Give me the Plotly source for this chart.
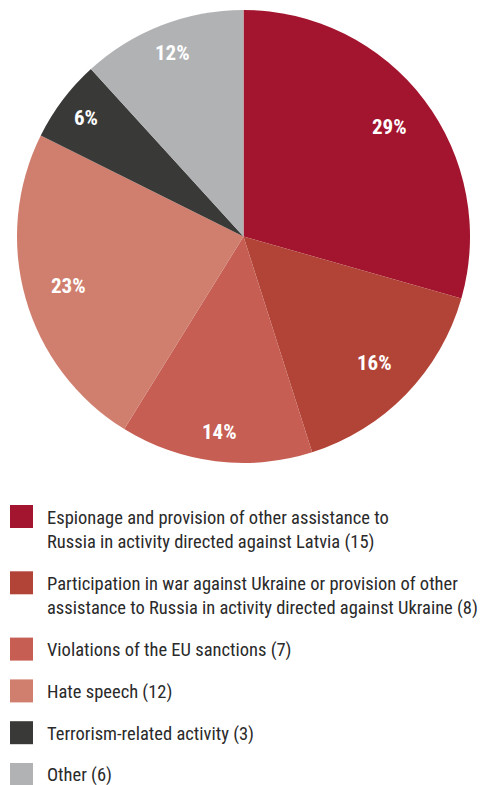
import math
import plotly.graph_objects as go

# Cases by category (count in brackets in the legend)
categories = [
    "Espionage and provision of other assistance to<br>Russia in activity directed against Latvia",
    "Participation in war against Ukraine or provision of other<br>assistance to Russia in activity directed against Ukraine",
    "Violations of the EU sanctions",
    "Hate speech",
    "Terrorism-related activity",
    "Other",
]
counts = [15, 8, 7, 12, 3, 6]
# Published percentage shares (rounded so they total 100)
shares = [29, 16, 14, 23, 6, 12]
colors = ["#A3142E", "#B24437", "#C65E53", "#D07F6F", "#393938", "#B1B2B4"]

W, H = 485, 785
FONT = "Roboto Condensed, Liberation Sans Narrow, sans-serif"


def py(px):
    """Pixel row from the top -> paper y."""
    return 1 - px / H


def px_x(px):
    return px / W


fig = go.Figure()

# Pie: first slice at 12 o'clock, running clockwise
cx, cy, r = 243.5, 236.5, 226.5
fig.add_trace(go.Pie(
    labels=[c.replace("<br>", " ") for c in categories],
    values=counts,
    textinfo="none",
    marker=dict(colors=colors, line=dict(width=0)),
    sort=False,
    direction="clockwise",
    rotation=0,
    showlegend=False,
    hoverinfo="label+value+percent",
    domain=dict(x=[px_x(cx - r), px_x(cx + r)], y=[py(cy + r), py(cy - r)]),
))

# Percentage labels near the outer edge of each slice, at its middle angle;
# narrow slices get their label a little further out where there is room
total = sum(counts)
start = 0.0
for n, s in zip(counts, shares):
    span = 360.0 * n / total
    mid = math.radians(start + span / 2)
    rr = r * (0.805 if s >= 15 else 0.87)
    fig.add_annotation(xref="paper", yref="paper",
                       x=px_x(cx + rr * math.sin(mid)), y=py(cy - rr * math.cos(mid)),
                       xanchor="center", yanchor="middle", text=f"{s}%", showarrow=False,
                       font=dict(family=FONT, size=21, color="white", weight="bold"))
    start += span

# Legend below the pie: coloured square + wrapped label
sw = 23          # swatch size
sx0 = 10         # swatch left
tx0 = 45         # text left
line_step = 24.5
item_step = 41.8
top = 505.0
for cat, n, col in zip(categories, counts, colors):
    lines = cat.split("<br>")
    lines[-1] = f"{lines[-1]} ({n})"
    fig.add_shape(type="rect", xref="paper", yref="paper",
                  x0=px_x(sx0), x1=px_x(sx0 + sw), y0=py(top + sw), y1=py(top),
                  fillcolor=col, line=dict(width=0))
    for i, ln in enumerate(lines):
        yc = top + sw / 2 + 1 + i * line_step
        fig.add_annotation(xref="paper", yref="paper", x=px_x(tx0), y=py(yc),
                           xanchor="left", yanchor="middle", text=ln, showarrow=False,
                           font=dict(family=FONT, size=18.5, color="#2a2a2a"))
    top += item_step + (len(lines) - 1) * line_step

fig.update_layout(
    width=W, height=H,
    margin=dict(l=0, r=0, t=0, b=0),
    paper_bgcolor="white",
    plot_bgcolor="white",
    xaxis=dict(visible=False),
    yaxis=dict(visible=False),
)
fig.write_html("out.html")
